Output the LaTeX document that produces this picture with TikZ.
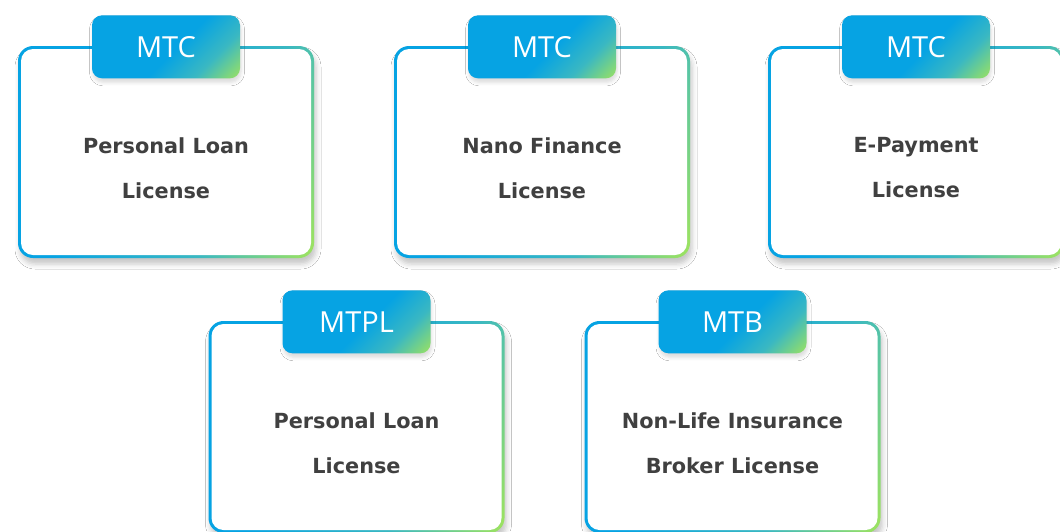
\documentclass[tikz,border=0pt]{standalone}
\usepackage{fontspec}
\setmainfont{DejaVu Sans}
\newfontfamily\tabfont{Open Sans}
\usetikzlibrary{shadows.blur}

\definecolor{brandblue}{HTML}{06A3E3}
\definecolor{brandteal}{HTML}{3AB8C2}
\definecolor{brandgreen}{HTML}{A0E45C}
\definecolor{bodytext}{HTML}{404040}

% rim: blue on the left, teal at the top right, green at the bottom right
\pgfdeclarehorizontalshading{rimshade}{100bp}{color(0bp)=(brandblue); color(38bp)=(brandblue); color(63bp)=(brandteal); color(83bp)=(brandgreen); color(100bp)=(brandgreen)}
% tab: blue with a green bottom-right corner
\pgfdeclarehorizontalshading{tabshade}{100bp}{color(0bp)=(brandblue); color(54bp)=(brandblue); color(70bp)=(brandteal); color(86bp)=(brandgreen); color(100bp)=(brandgreen)}

\tikzset{
  cardrim/.style={minimum width=296pt, minimum height=212pt, inner sep=0pt,
    rounded corners=15pt, shade, shading=rimshade, shading angle=-23,
    blur shadow={shadow xshift=2pt, shadow yshift=-6pt, shadow blur radius=5pt, shadow opacity=22}},
  cardface/.style={minimum width=290pt, minimum height=206pt, inner sep=0pt,
    rounded corners=12pt, fill=white},
  tabbox/.style={minimum width=148pt, minimum height=63pt, inner sep=0pt,
    rounded corners=10pt, shade, shading=tabshade, shading angle=-45,
    blur shadow={shadow xshift=1pt, shadow yshift=-4pt, shadow blur radius=3.5pt, shadow opacity=14},
    text=white, font=\tabfont\fontsize{29}{31}\selectfont},
  cardtext/.style={align=center, text=bodytext, inner sep=0pt,
    font=\bfseries\fontsize{20.8}{45}\selectfont}
}

\begin{document}
\begin{tikzpicture}[x=1pt, y=-1pt]
  \useasboundingbox (0,0) rectangle (1060,531);
  \fill[white] (0,0) rectangle (1060,531);
  \clip (0,0) rectangle (1060,531);

  \foreach \n/\cx/\cy/\tag/\body in {
      1/166/152/MTC/{Personal Loan\\License},
      2/542/152/MTC/{Nano Finance\\License},
      3/916/152/MTC/{E-Payment\\License},
      4/356.5/427/MTPL/{Personal Loan\\License},
      5/732.5/427/MTB/{Non-Life Insurance\\Broker License}} {
    \node[cardrim] (rim\n) at (\cx,\cy) {};
    \node[cardface] (face\n) at (rim\n.center) {};
    \node[tabbox] (tab\n) at ([yshift=-1pt]rim\n.north) {\tag};
    \node[cardtext] (text\n) at ([yshift=-16pt]rim\n.center) {\body};
  }
\end{tikzpicture}
\end{document}
